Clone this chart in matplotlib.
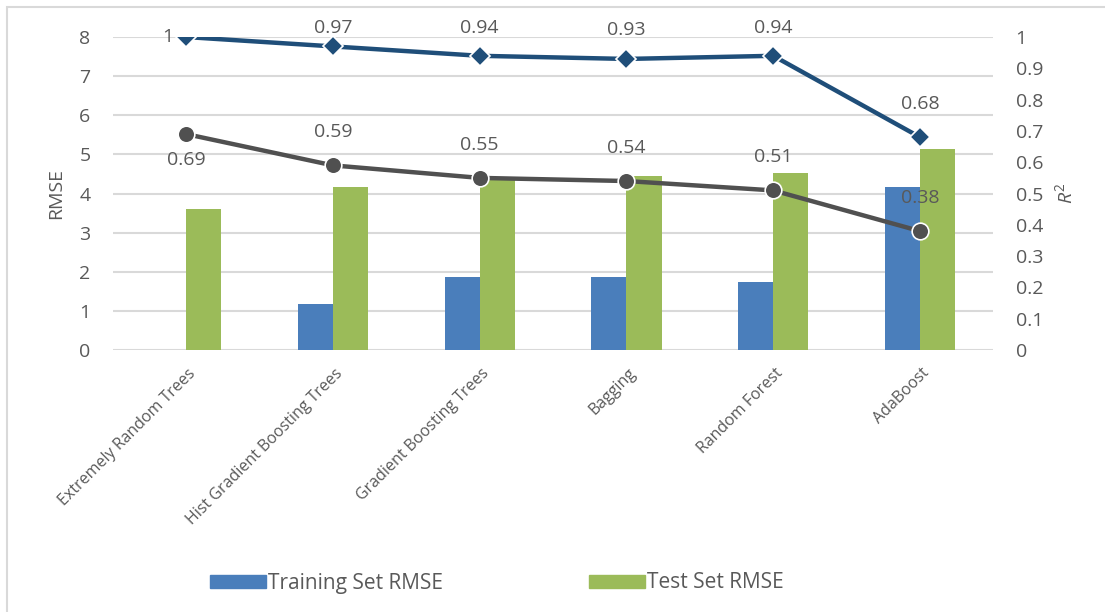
import numpy as np
import matplotlib.pyplot as plt
from matplotlib.patches import Rectangle, Patch
import matplotlib.transforms as mtransforms

plt.rcParams['font.family'] = ['Open Sans', 'DejaVu Sans']
plt.rcParams['mathtext.fontset'] = 'custom'
plt.rcParams['mathtext.it'] = 'Open Sans:italic'
plt.rcParams['mathtext.rm'] = 'Open Sans'

models = ['Extremely Random Trees', 'Hist Gradient Boosting Trees',
          'Gradient Boosting Trees', 'Bagging', 'Random Forest', 'AdaBoost']
train_rmse = [0.0, 1.18, 1.87, 1.87, 1.74, 4.16]
test_rmse = [3.61, 4.16, 4.43, 4.46, 4.53, 5.13]
train_r2 = [1.0, 0.97, 0.94, 0.93, 0.94, 0.68]
test_r2 = [0.69, 0.59, 0.55, 0.54, 0.51, 0.38]

text_col = '#595959'
grid_col = '#d9d9d9'
blue = '#4a7ebb'
green = '#9bbb59'
navy = '#1f4e79'
grey = '#505050'

fig = plt.figure(figsize=(11.05, 6.12), dpi=100)
ax = fig.add_axes([0.102, 0.428, 0.797, 0.5115])

# chart border
fig.patches.append(Rectangle((7 / 1105, -0.1), 1.2, 1 - 7 / 612 + 0.1,
                             transform=fig.transFigure, fill=False,
                             edgecolor=grid_col, linewidth=1.5))

x = np.arange(len(models))
w = 0.239
ax.bar(x - w / 2, train_rmse, w, color=blue, zorder=2, label='Training Set RMSE')
ax.bar(x + w / 2, test_rmse, w, color=green, zorder=2, label='Test Set RMSE')

ax.set_xlim(-0.5, len(models) - 0.5)
ax.set_ylim(0, 8)
ax.set_yticks(range(0, 9))
ax.yaxis.grid(True, color=grid_col, linewidth=1.5, zorder=0)
ax.set_axisbelow(True)
for s in ax.spines.values():
    s.set_visible(False)
ax.tick_params(axis='y', length=0, pad=16, labelsize=14, labelcolor=text_col)
ax.tick_params(axis='x', length=0, pad=11, labelsize=11.5, labelcolor=text_col)
ax.set_xticks(x)
ax.set_xticklabels(models, rotation=45, ha='right', rotation_mode='anchor')
shift = mtransforms.ScaledTranslation(1 / 72, 0, fig.dpi_scale_trans)
for lab in ax.get_xticklabels():
    lab.set_transform(lab.get_transform() + shift)
ax.set_ylabel('RMSE', fontsize=14, color=text_col, labelpad=10)

ax2 = ax.twinx()
ax2.set_ylim(0, 1)
ax2.set_yticks(np.arange(0, 1.01, 0.1))
ax2.set_yticklabels(['0', '0.1', '0.2', '0.3', '0.4', '0.5', '0.6', '0.7', '0.8', '0.9', '1'])
for s in ax2.spines.values():
    s.set_visible(False)
ax2.tick_params(axis='y', length=0, pad=16, labelsize=14, labelcolor=text_col)
ax2.set_ylabel(r'$R^2$', fontsize=14, color=text_col, labelpad=8)

ax2.plot(x, train_r2, color=navy, linewidth=3.2, marker='D', markersize=10,
         markeredgecolor='white', markeredgewidth=1.2, zorder=4)
ax2.plot(x, test_r2, color=grey, linewidth=3.2, marker='o', markersize=12,
         markeredgecolor='white', markeredgewidth=1.2, zorder=3)

# axis height in points, to keep the top labels inside the chart like Excel does
ax_h_pt = 0.5115 * 6.12 * 72
for i, v in enumerate(train_r2):
    lbl = f'{v:g}'
    if i == 0:
        ax2.annotate(lbl, (x[i], v), xytext=(-9, 0), textcoords='offset points',
                     ha='right', va='center', fontsize=14, color=text_col)
    else:
        dy = 24 if i == len(train_r2) - 1 else min(21, (1 - v) * ax_h_pt + 6.5)
        ax2.annotate(lbl, (x[i], v), xytext=(0, dy), textcoords='offset points',
                     ha='center', va='center', fontsize=14, color=text_col)
for i, v in enumerate(test_r2):
    dy = -19 if i == 0 else 24
    ax2.annotate(f'{v:g}', (x[i], v), xytext=(0, dy), textcoords='offset points',
                 ha='center', va='center', fontsize=14, color=text_col, zorder=5)

handles = [Patch(color=blue), Patch(color=green)]
fig.legend(handles, ['Training Set RMSE', 'Test Set RMSE'], loc='center',
           bbox_to_anchor=(497 / 1105, 1 - 583 / 612), ncol=2, frameon=False,
           handlelength=2.7, handleheight=0.6, handletextpad=0.1, columnspacing=7,
           prop={'family': ['Liberation Sans Narrow', 'Open Sans'], 'size': 15},
           labelcolor=text_col)

fig.savefig('out.png', dpi=100)
